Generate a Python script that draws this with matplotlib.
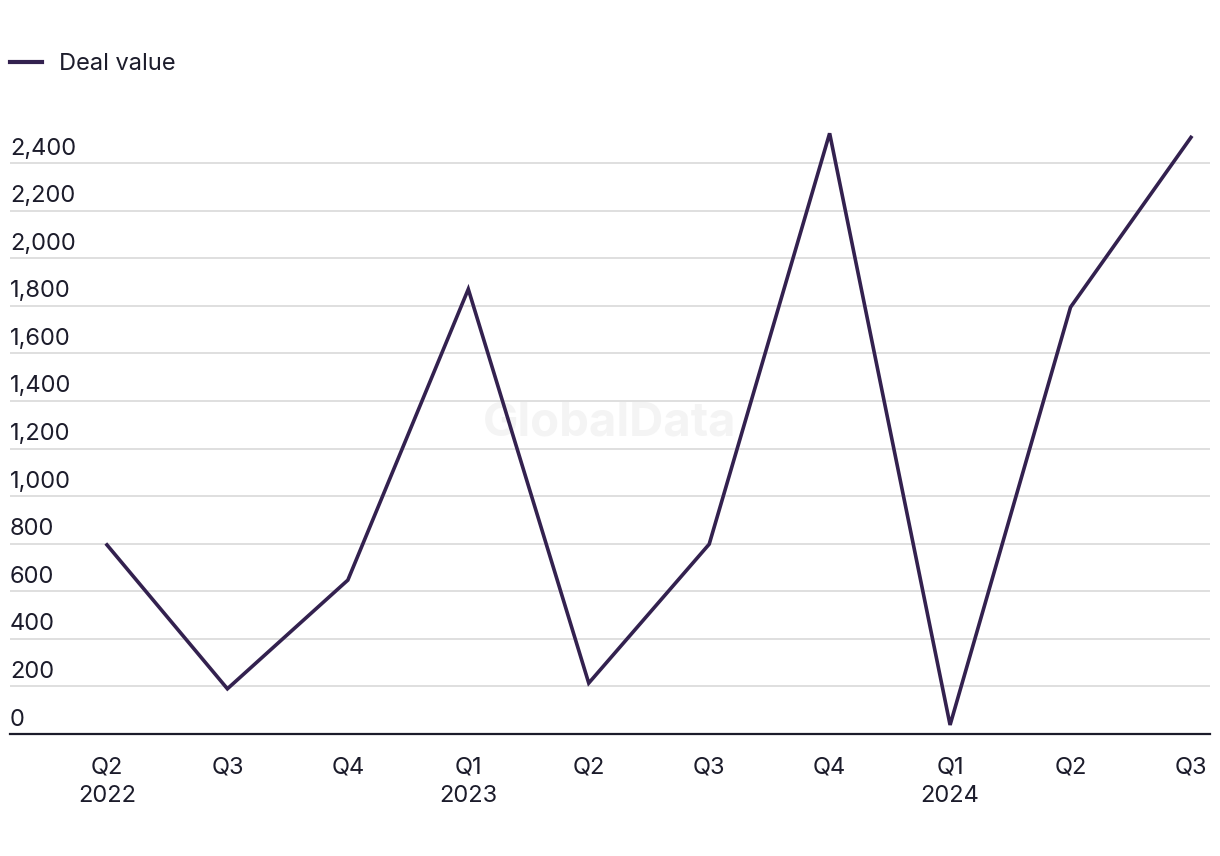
import matplotlib
matplotlib.use("Agg")
import matplotlib.pyplot as plt

quarters = ["Q2", "Q3", "Q4", "Q1", "Q2", "Q3", "Q4", "Q1", "Q2", "Q3"]
years = ["2022", "", "", "2023", "", "", "", "2024", "", ""]
deal_value = [795, 190, 647, 1870, 214, 798, 2525, 38, 1794, 2508]
yticks = [0, 200, 400, 600, 800, 1000, 1200, 1400, 1600, 1800, 2000, 2200, 2400]

plt.rcParams['font.family'] = ['Inter', 'DejaVu Sans']
line_color = "#33214f"
text_color = "#1c1c2b"

fig = plt.figure(figsize=(12.2, 8.56), dpi=100)
W, H = 1220, 856
ax = fig.add_axes([10 / W, (H - 734) / H, 1200 / W, (734 - 125) / H])

x = list(range(len(deal_value)))
ax.plot(x, deal_value, color=line_color, lw=2.6, label="Deal value",
        solid_joinstyle='miter', clip_on=False)

ax.set_xlim(-0.805, 9.158)
ax.set_ylim(0, 2560)

for s in ["top", "right", "left"]:
    ax.spines[s].set_visible(False)
ax.spines["bottom"].set_color(text_color)
ax.spines["bottom"].set_linewidth(1.6)

ax.set_yticks(yticks)
ax.set_yticklabels([])
ax.tick_params(axis='y', length=0)
ax.grid(axis='y', color="#d9d9d9", lw=1.2)
ax.set_axisbelow(True)
for v in yticks:
    ax.annotate(f"{v:,}", xy=(0, v), xycoords=('axes fraction', 'data'),
                xytext=(0, 2.5), textcoords='offset points', ha='left', va='bottom',
                fontsize=17, color=text_color)

ax.set_xticks(x)
ax.set_xticklabels([q + ("\n" + y if y else "") for q, y in zip(quarters, years)],
                   fontsize=17, color=text_color, linespacing=1.42, va='top')
ax.tick_params(axis='x', length=0, pad=16)

ax.text(0.5, 0.51, "GlobalData", transform=ax.transAxes, ha='center', va='center',
        fontsize=34, fontweight='bold', color="#f4f4f4", zorder=0)

leg = fig.legend(loc='upper left', bbox_to_anchor=(10 / W, 1 - 53 / H), frameon=False,
                 fontsize=17, handlelength=1.35, handletextpad=0.72, borderpad=0,
                 borderaxespad=0)
for t in leg.get_texts():
    t.set_color(text_color)
for l in leg.get_lines():
    l.set_linewidth(3)

fig.savefig("out.png", dpi=100)
